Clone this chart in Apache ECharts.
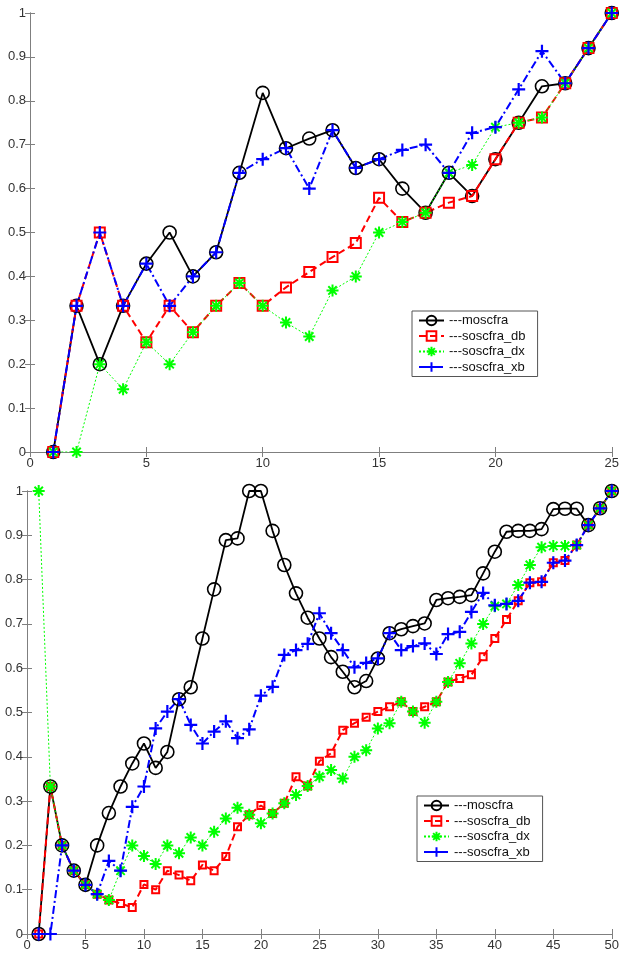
<!DOCTYPE html>
<html>
<head>
<meta charset="utf-8">
<script src="https://cdn.jsdelivr.net/npm/echarts@6/dist/echarts.min.js"></script>
<style>
  html, body { margin: 0; padding: 0; background: #fff; }
  #chart { width: 622px; height: 953px; }
</style>
</head>
<body>
<div id="chart"></div>
<script>
// series names
const names = ['---moscfra', '---soscfra_db', '---soscfra_dx', '---soscfra_xb'];

// top panel, x = 1..25
const xTop = Array.from({length: 25}, (_, i) => i + 1);
const moscfraTop = [0, 0.333, 0.2, 0.333, 0.429, 0.5, 0.4, 0.455, 0.636, 0.818, 0.692, 0.714, 0.733, 0.647, 0.667, 0.6, 0.545, 0.636, 0.583, 0.667, 0.75, 0.833, 0.84, 0.92, 1];
const dbTop = [0, 0.333, 0.5, 0.333, 0.25, 0.333, 0.273, 0.333, 0.385, 0.333, 0.375, 0.41, 0.444, 0.476, 0.579, 0.524, 0.545, 0.568, 0.583, 0.667, 0.75, 0.762, 0.84, 0.92, 1];
const dxTop = [0, 0, 0.2, 0.143, 0.25, 0.2, 0.273, 0.333, 0.385, 0.333, 0.295, 0.263, 0.368, 0.4, 0.5, 0.524, 0.545, 0.636, 0.654, 0.74, 0.75, 0.762, 0.84, 0.92, 1];
const xbTop = [0, 0.333, 0.5, 0.333, 0.429, 0.333, 0.4, 0.455, 0.636, 0.667, 0.692, 0.6, 0.733, 0.647, 0.667, 0.688, 0.7, 0.636, 0.727, 0.74, 0.826, 0.913, 0.84, 0.92, 1];

// bottom panel, x = 1..50
const xBot = Array.from({length: 50}, (_, i) => i + 1);
const moscfraBot = [0, 0.333, 0.2, 0.143, 0.111, 0.2, 0.273, 0.333, 0.385, 0.43, 0.375, 0.411, 0.53, 0.557, 0.667, 0.778, 0.889, 0.893, 1, 1, 0.91, 0.833, 0.769, 0.714, 0.667, 0.625, 0.592, 0.557, 0.571, 0.622, 0.679, 0.688, 0.695, 0.701, 0.754, 0.758, 0.761, 0.765, 0.814, 0.863, 0.908, 0.91, 0.91, 0.914, 0.959, 0.96, 0.96, 0.923, 0.961, 1];
const dbBot = [0, 0.333, 0.2, 0.143, 0.111, 0.09, 0.077, 0.069, 0.06, 0.112, 0.1, 0.143, 0.133, 0.12, 0.156, 0.143, 0.175, 0.242, 0.269, 0.29, 0.272, 0.295, 0.355, 0.334, 0.39, 0.408, 0.46, 0.476, 0.489, 0.502, 0.513, 0.524, 0.502, 0.513, 0.524, 0.569, 0.577, 0.585, 0.626, 0.667, 0.71, 0.752, 0.793, 0.795, 0.838, 0.843, 0.878, 0.923, 0.961, 1];
const dxBot = [1, 0.333, 0.2, 0.143, 0.111, 0.09, 0.077, 0.143, 0.2, 0.176, 0.158, 0.2, 0.182, 0.218, 0.2, 0.231, 0.261, 0.285, 0.269, 0.25, 0.272, 0.295, 0.314, 0.334, 0.355, 0.37, 0.351, 0.4, 0.415, 0.464, 0.476, 0.524, 0.502, 0.477, 0.524, 0.569, 0.611, 0.656, 0.7, 0.74, 0.745, 0.788, 0.833, 0.873, 0.876, 0.876, 0.878, 0.923, 0.961, 1];
const xbBot = [0, 0, 0.2, 0.143, 0.111, 0.09, 0.165, 0.143, 0.287, 0.333, 0.464, 0.502, 0.53, 0.472, 0.43, 0.457, 0.48, 0.442, 0.462, 0.538, 0.558, 0.63, 0.641, 0.655, 0.724, 0.679, 0.641, 0.602, 0.612, 0.622, 0.679, 0.641, 0.65, 0.656, 0.632, 0.677, 0.682, 0.727, 0.77, 0.742, 0.745, 0.752, 0.793, 0.795, 0.838, 0.843, 0.878, 0.923, 0.961, 1];

const chart = echarts.init(document.getElementById('chart'));

const font = 'Liberation Sans, Arial, sans-serif';
const axisGrey = '#7f7f7f';
const starPath = 'path://M0,5L10,5M5,0L5,10M1.5,1.5L8.5,8.5M8.5,1.5L1.5,8.5';
const plusPath = 'path://M0,5L10,5M5,0L5,10';

function pairs(xs, ys) {
  return xs.map((x, i) => [x, ys[i]]);
}

// bottom + top x axis for a panel (box like matlab)
function xAxes(grid, max) {
  const base = {
    type: 'value', gridIndex: grid, min: 0, max: max, interval: 5,
    axisLine: {lineStyle: {color: axisGrey, width: 1}},
    axisTick: {inside: true, length: 5, lineStyle: {color: axisGrey}},
    splitLine: {show: false}
  };
  return [
    Object.assign({}, base, {
      position: 'bottom',
      axisLabel: {color: '#333', fontFamily: font, fontSize: 13, margin: 5}
    }),
    Object.assign({}, base, {position: 'top', axisLabel: {show: false}})
  ];
}
// left + right y axis for a panel
function yAxes(grid) {
  const base = {
    type: 'value', gridIndex: grid, min: 0, max: 1, interval: 0.1,
    axisLine: {show: true, lineStyle: {color: axisGrey, width: 1}},
    axisTick: {show: true, inside: true, length: 5, lineStyle: {color: axisGrey}},
    splitLine: {show: false}
  };
  return [
    Object.assign({}, base, {
      position: 'left',
      axisLabel: {color: '#333', fontFamily: font, fontSize: 13, margin: 4}
    }),
    Object.assign({}, base, {position: 'right', axisLabel: {show: false}})
  ];
}

function makeSeries(axis, xs, data, squareSize) {
  return [
    {
      name: names[0], type: 'line', xAxisIndex: axis, yAxisIndex: axis,
      data: pairs(xs, data[0]),
      symbol: 'circle', symbolSize: 13,
      itemStyle: {color: 'rgba(0,0,0,0)', borderColor: '#000', borderWidth: 1.6},
      lineStyle: {color: '#000', width: 1.8}
    },
    {
      name: names[1], type: 'line', xAxisIndex: axis, yAxisIndex: axis,
      data: pairs(xs, data[1]),
      symbol: 'rect', symbolSize: squareSize,
      itemStyle: {color: 'rgba(0,0,0,0)', borderColor: '#ff0000', borderWidth: 2},
      lineStyle: {color: '#ff0000', width: 2, type: [7, 4]}
    },
    {
      name: names[2], type: 'line', xAxisIndex: axis, yAxisIndex: axis,
      data: pairs(xs, data[2]),
      symbol: starPath, symbolSize: 12,
      itemStyle: {color: 'rgba(0,0,0,0)', borderColor: '#00ff00', borderWidth: 2},
      lineStyle: {color: '#00ff00', width: 1, type: [2, 2]}
    },
    {
      name: names[3], type: 'line', xAxisIndex: axis, yAxisIndex: axis,
      data: pairs(xs, data[3]),
      symbol: plusPath, symbolSize: 13,
      itemStyle: {color: 'rgba(0,0,0,0)', borderColor: '#0000ff', borderWidth: 2.2},
      lineStyle: {color: '#0000ff', width: 2, type: [8, 3, 2, 3]}
    }
  ];
}

function legend(left, top) {
  return {
    data: names, orient: 'vertical', left: left, top: top,
    itemWidth: 25, itemHeight: 12, itemGap: 2.5,
    padding: [3, 12, 3, 6],
    borderColor: '#555', borderWidth: 1, backgroundColor: '#fff',
    selectedMode: false,
    textStyle: {color: '#111', fontFamily: font, fontSize: 13}
  };
}

const option = {
  animation: false,
  backgroundColor: '#fff',
  grid: [
    {left: 30, top: 13, width: 586, height: 439},
    {left: 27, top: 491, width: 591, height: 443}
  ],
  xAxis: xAxes(0, 25).concat(xAxes(1, 50)),
  yAxis: yAxes(0).concat(yAxes(1)),
  legend: [legend(412, 311), legend(417, 796)],
  series: [
    ...makeSeries(0, xTop, [moscfraTop, dbTop, dxTop, xbTop], 10),
    ...makeSeries(2, xBot, [moscfraBot, dbBot, dxBot, xbBot], 7)
  ]
};

chart.setOption(option);
</script>
</body>
</html>
